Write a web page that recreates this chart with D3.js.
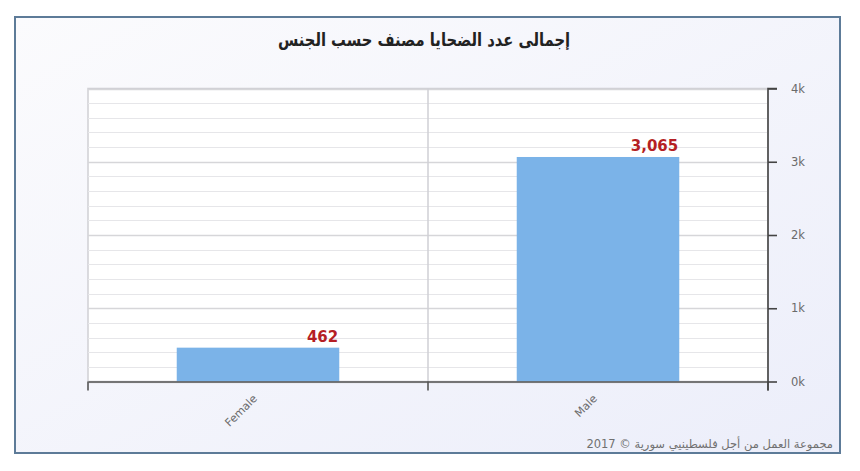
<!DOCTYPE html>
<html>
<head>
<meta charset="utf-8">
<script src="https://cdn.jsdelivr.net/npm/d3@7"></script>
<style>
  html, body { margin: 0; padding: 0; background: #ffffff; }
  svg { display: block; }
</style>
</head>
<body>
<svg id="chart" width="860" height="471"></svg>
<script>
const titleText = "إجمالى عدد الضحايا مصنف حسب الجنس";
const creditText = "مجموعة العمل من أجل فلسطينيي سورية © 2017";
const categories = ["Female", "Male"];
const values = [462, 3065];
const yTicks = [0, 1000, 2000, 3000, 4000];
const yTickLabels = ["0k", "1k", "2k", "3k", "4k"];
const minorStep = 200;

const svg = d3.select("#chart");
const W = 860, H = 471;

const defs = svg.append("defs");
const grad = defs.append("linearGradient").attr("id", "bg").attr("x1", "0").attr("y1", "0").attr("x2", "1").attr("y2", "1");
grad.append("stop").attr("offset", "0%").attr("stop-color", "#fbfbfd");
grad.append("stop").attr("offset", "100%").attr("stop-color", "#eceefa");

svg.append("rect").attr("x", 0).attr("y", 0).attr("width", W).attr("height", H).attr("fill", "#ffffff");
svg.append("rect").attr("x", 15).attr("y", 17).attr("width", 825).attr("height", 436)
  .attr("fill", "url(#bg)").attr("stroke", "#5d7b98").attr("stroke-width", 2);

const plot = { left: 88, right: 768, top: 88.5, bottom: 381.5 };

const x = d3.scaleBand().domain(categories).range([plot.left, plot.right]).paddingInner(0).paddingOuter(0);
const y = d3.scaleLinear().domain([0, 4000]).range([plot.bottom, plot.top]);

svg.append("rect").attr("x", plot.left).attr("y", plot.top)
  .attr("width", plot.right - plot.left).attr("height", plot.bottom - plot.top)
  .attr("fill", "#ffffff").attr("stroke", "#cfcfd4").attr("stroke-width", 1.5);

const minor = d3.range(0, 4000 + 1, minorStep);
svg.append("g").selectAll("line").data(minor).join("line")
  .attr("x1", plot.left).attr("x2", plot.right)
  .attr("y1", d => Math.round(y(d)) + 0.5).attr("y2", d => Math.round(y(d)) + 0.5)
  .attr("stroke", d => d % 1000 === 0 ? "#d6d6d9" : "#e6e6e9")
  .attr("stroke-width", d => d % 1000 === 0 ? 1.6 : 1.1);

svg.append("line")
  .attr("x1", x("Male")).attr("x2", x("Male"))
  .attr("y1", plot.top).attr("y2", plot.bottom)
  .attr("stroke", "#cfcfd4").attr("stroke-width", 1.5);

const barW = x.bandwidth() * 0.478;
svg.append("g").selectAll("rect").data(categories).join("rect")
  .attr("x", (d) => x(d) + (x.bandwidth() - barW) / 2)
  .attr("width", barW)
  .attr("y", (d, i) => y(values[i]))
  .attr("height", (d, i) => y(0) - y(values[i]))
  .attr("fill", "#7bb3e8");

svg.append("g").selectAll("text").data(categories).join("text")
  .attr("x", (d) => x(d) + (x.bandwidth() + barW) / 2 - 1)
  .attr("y", (d, i) => y(values[i]) - 6)
  .attr("text-anchor", "end")
  .attr("font-family", "DejaVu Sans, sans-serif")
  .attr("font-weight", "bold")
  .attr("font-size", 15)
  .attr("fill", "#b51f24")
  .text((d, i) => d3.format(",")(values[i]));

const xAxis = d3.axisBottom(x).tickSize(0).tickFormat(d => d);
const gx = svg.append("g").attr("transform", `translate(0,${plot.bottom})`).call(xAxis);
gx.select(".domain").attr("stroke", "#555").attr("stroke-width", 1.6);
gx.selectAll(".tick text")
  .attr("font-family", "DejaVu Sans, sans-serif")
  .attr("font-size", 11)
  .attr("fill", "#6a6a6a")
  .attr("text-anchor", "end")
  .attr("transform", "translate(-3,15) rotate(-45)")
  .attr("dy", "0.35em").attr("y", 0).attr("x", 0);
svg.append("g").selectAll("line").data([plot.left, x("Male"), plot.right]).join("line")
  .attr("x1", d => d).attr("x2", d => d)
  .attr("y1", plot.bottom).attr("y2", plot.bottom + 9)
  .attr("stroke", "#555").attr("stroke-width", 1.6);

const yAxis = d3.axisRight(y).tickValues(yTicks).tickSize(9).tickPadding(14)
  .tickFormat((d, i) => yTickLabels[i]);
const gy = svg.append("g").attr("transform", `translate(${plot.right},0)`).call(yAxis);
gy.select(".domain").attr("stroke", "#444").attr("stroke-width", 1.6)
  .attr("d", `M9,${plot.top}H0V${plot.bottom + 9}`);
gy.selectAll(".tick line").attr("stroke", "#444").attr("stroke-width", 1.6);
gy.selectAll(".tick text")
  .attr("font-family", "DejaVu Sans, sans-serif")
  .attr("font-size", 11.5)
  .attr("fill", "#6a6a6a");

svg.append("text")
  .attr("transform", "translate(424,46) scale(0.82,1)")
  .attr("x", 0).attr("y", 0)
  .attr("text-anchor", "middle")
  .attr("font-family", "DejaVu Sans, sans-serif")
  .attr("font-weight", "bold")
  .attr("font-size", 18)
  .attr("fill", "#222")
  .attr("direction", "rtl")
  .text(titleText);

svg.append("text")
  .attr("x", 833).attr("y", 448)
  .attr("text-anchor", "start")
  .attr("direction", "rtl")
  .attr("font-family", "DejaVu Sans, sans-serif")
  .attr("font-size", 11.5)
  .attr("fill", "#707070")
  .text(creditText);
</script>
</body>
</html>
